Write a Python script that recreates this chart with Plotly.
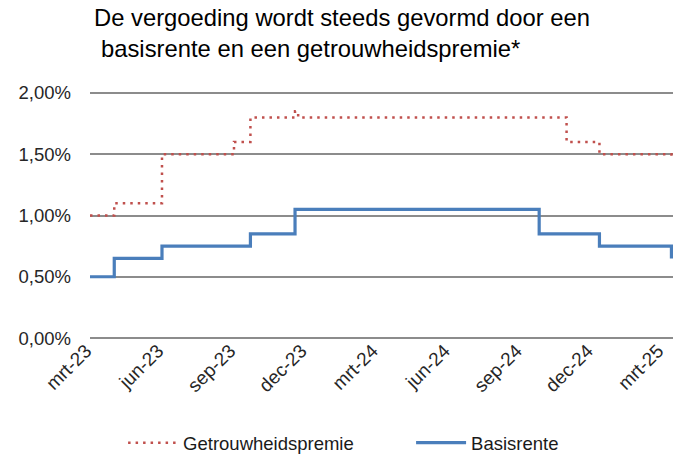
import plotly.graph_objects as go

# Basisrente (blue, solid) - step changes
basis_dates = ["2023-03-01", "2023-04-01", "2023-06-01", "2023-09-22", "2023-11-18",
               "2024-09-25", "2024-12-11", "2025-03-12", "2025-03-13"]
basis_values = [0.50, 0.65, 0.75, 0.85, 1.05, 0.85, 0.75, 0.75, 0.65]

# Getrouwheidspremie (red, dotted) - step changes
premie_dates = ["2023-03-01", "2023-04-01", "2023-06-01", "2023-09-01", "2023-09-22",
                "2023-11-18", "2023-11-22", "2024-10-30", "2024-12-11", "2025-03-12", "2025-03-13"]
premie_values = [1.00, 1.10, 1.50, 1.60, 1.80, 1.85, 1.80, 1.60, 1.50, 1.50, 1.45]

tick_dates = ["2023-03-01", "2023-06-01", "2023-09-01", "2023-12-01", "2024-03-01",
              "2024-06-01", "2024-09-01", "2024-12-01", "2025-03-01"]
tick_labels = ["mrt-23", "jun-23", "sep-23", "dec-23", "mrt-24",
               "jun-24", "sep-24", "dec-24", "mrt-25"]

y_ticks = [0.0, 0.5, 1.0, 1.5, 2.0]
y_tick_labels = ["0,00%", "0,50%", "1,00%", "1,50%", "2,00%"]

title_line1 = "De vergoeding wordt steeds gevormd door een"
title_line2 = "basisrente en een getrouwheidspremie*"

FONT = "Liberation Sans, Arial, sans-serif"

fig = go.Figure()
fig.add_trace(go.Scatter(
    x=premie_dates, y=premie_values, name="Getrouwheidspremie",
    mode="lines", line=dict(color="#C0504D", width=2.5, dash="2.5px,5px", shape="hv"),
))
fig.add_trace(go.Scatter(
    x=basis_dates, y=basis_values, name="Basisrente",
    mode="lines", line=dict(color="#4A7EBB", width=3.2, shape="hv"),
))

fig.update_layout(
    width=680, height=455,
    margin=dict(l=90, r=7, t=91, b=115, autoexpand=False),
    paper_bgcolor="white", plot_bgcolor="white",
    font=dict(family=FONT, color="#1a1a1a"),
    showlegend=True,
    legend=dict(orientation="h", xref="container", yref="container",
                x=0.181, xanchor="left", y=0.026, yanchor="middle",
                font=dict(size=18.5, color="#1a1a1a"), itemwidth=50,
                entrywidth=223, entrywidthmode="pixels",
                bgcolor="rgba(0,0,0,0)"),
    xaxis=dict(
        type="date", range=["2023-03-01", "2025-03-15"], automargin=False,
        tickvals=tick_dates, ticktext=tick_labels, tickangle=-45,
        showgrid=False, zeroline=False, showline=False, ticks="",
        tickfont=dict(size=19, color="#262626"), ticklabelstandoff=-5,
        ticklabelshift=-4,
    ),
    yaxis=dict(
        range=[-0.016, 2.016], automargin=False,
        tickvals=y_ticks, ticktext=y_tick_labels,
        showgrid=True, gridcolor="#8c8c8c", gridwidth=1.6,
        zeroline=False, showline=False, ticks="",
        tickfont=dict(size=18.5, color="#262626"), ticklabelstandoff=18,
    ),
    annotations=[
        dict(text=title_line1, xref="paper", yref="paper", x=0.004, y=1.294,
             xanchor="left", yanchor="middle", showarrow=False,
             font=dict(size=23.8, color="#000000", family=FONT)),
        dict(text=title_line2, xref="paper", yref="paper", x=0.016, y=1.172,
             xanchor="left", yanchor="middle", showarrow=False,
             font=dict(size=23.8, color="#000000", family=FONT)),
    ],
)

fig.write_html("out.html", post_script="document.body.style.margin='0';",
               config={"displayModeBar": False})
